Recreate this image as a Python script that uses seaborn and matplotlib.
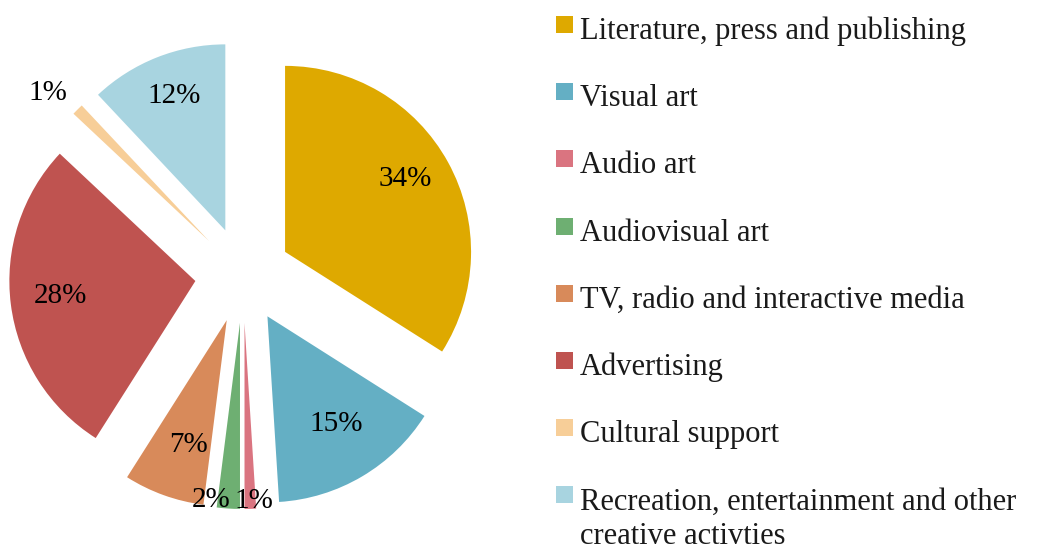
import numpy as np
import matplotlib
matplotlib.use("Agg")
import matplotlib.pyplot as plt
import seaborn as sns
from matplotlib.patches import Rectangle

# Share of creative-sector activity by domain (percent)
categories = [
    "Literature, press and publishing",
    "Visual art",
    "Audio art",
    "Audiovisual art",
    "TV, radio and interactive media",
    "Advertising",
    "Cultural support",
    "Recreation, entertainment and other\ncreative activties",
]
shares = [34, 15, 1, 2, 7, 28, 1, 12]
pct_labels = ["34%", "15%", "1%", "2%", "7%", "28%", "1%", "12%"]

palette_hex = ["#DEA900", "#64AFC4", "#DA7480", "#6EAF72",
               "#D88A5A", "#BF5350", "#F7CE98", "#A8D4E0"]

sns.set_theme(style="white")
plt.rcParams["font.family"] = ["Liberation Serif", "DejaVu Serif"]
colors = sns.color_palette(palette_hex)

W, H = 1040, 550
fig = plt.figure(figsize=(W / 100, H / 100), dpi=100)
fig.patch.set_facecolor("white")

# pie geometry in pixels
R_PX = 186.0
CX, CY = 243.0, 275.0          # centre measured from the left / top edges
EXPLODE = 48.0 / R_PX

ax = fig.add_axes([0, 0, 1, 1])
wedges, _ = ax.pie(
    shares,
    colors=colors,
    startangle=90,
    counterclock=False,
    explode=[EXPLODE] * len(shares),
    radius=1.0,
    wedgeprops=dict(linewidth=0, antialiased=True),
)
ax.set_xlim(-CX / R_PX, (W - CX) / R_PX)
ax.set_ylim(-(H - CY) / R_PX, CY / R_PX)
ax.set_aspect("equal")
ax.axis("off")

# radial distance of each percentage label (in radii) and a small
# (right, down) nudge in pixels
label_dist = [0.76, 0.68, 0.94, 0.94, 0.70, 0.74, 1.18, 0.79]
label_nudge = [(-4, -8), (4, -4), (4, 0), (-18, 0),
               (6, -1), (2, -5), (-6, 4), (3, -1)]

for w, txt, d, (nx, ny) in zip(wedges, pct_labels, label_dist, label_nudge):
    mid = np.deg2rad((w.theta1 + w.theta2) / 2.0)
    x0, y0 = w.center
    ax.annotate(
        txt,
        xy=(x0 + d * np.cos(mid), y0 + d * np.sin(mid)),
        xytext=(nx * 0.72, -ny * 0.72),
        textcoords="offset points",
        ha="center", va="center_baseline",
        fontsize=21, color="black",
    )

# legend: coloured squares with labels, stacked down the right-hand side
SQ = 17
SQ_X = 556
ROW0 = 24.5
ROW_GAP = 67.2
TEXT_X = 580
LINE_GAP = 35
for i, (lab, col) in enumerate(zip(categories, colors)):
    yc = ROW0 + i * ROW_GAP
    fig.patches.append(Rectangle(
        (SQ_X / W, (H - yc - SQ / 2) / H), SQ / W, SQ / H,
        transform=fig.transFigure, facecolor=col, edgecolor="none"))
    for k, line in enumerate(lab.split("\n")):
        base = yc + 14.5 + k * LINE_GAP
        fig.text(TEXT_X / W, (H - base) / H, line, ha="left", va="baseline",
                 fontsize=22, color="#1a1a1a")

fig.savefig("out.png", dpi=100, facecolor="white")
